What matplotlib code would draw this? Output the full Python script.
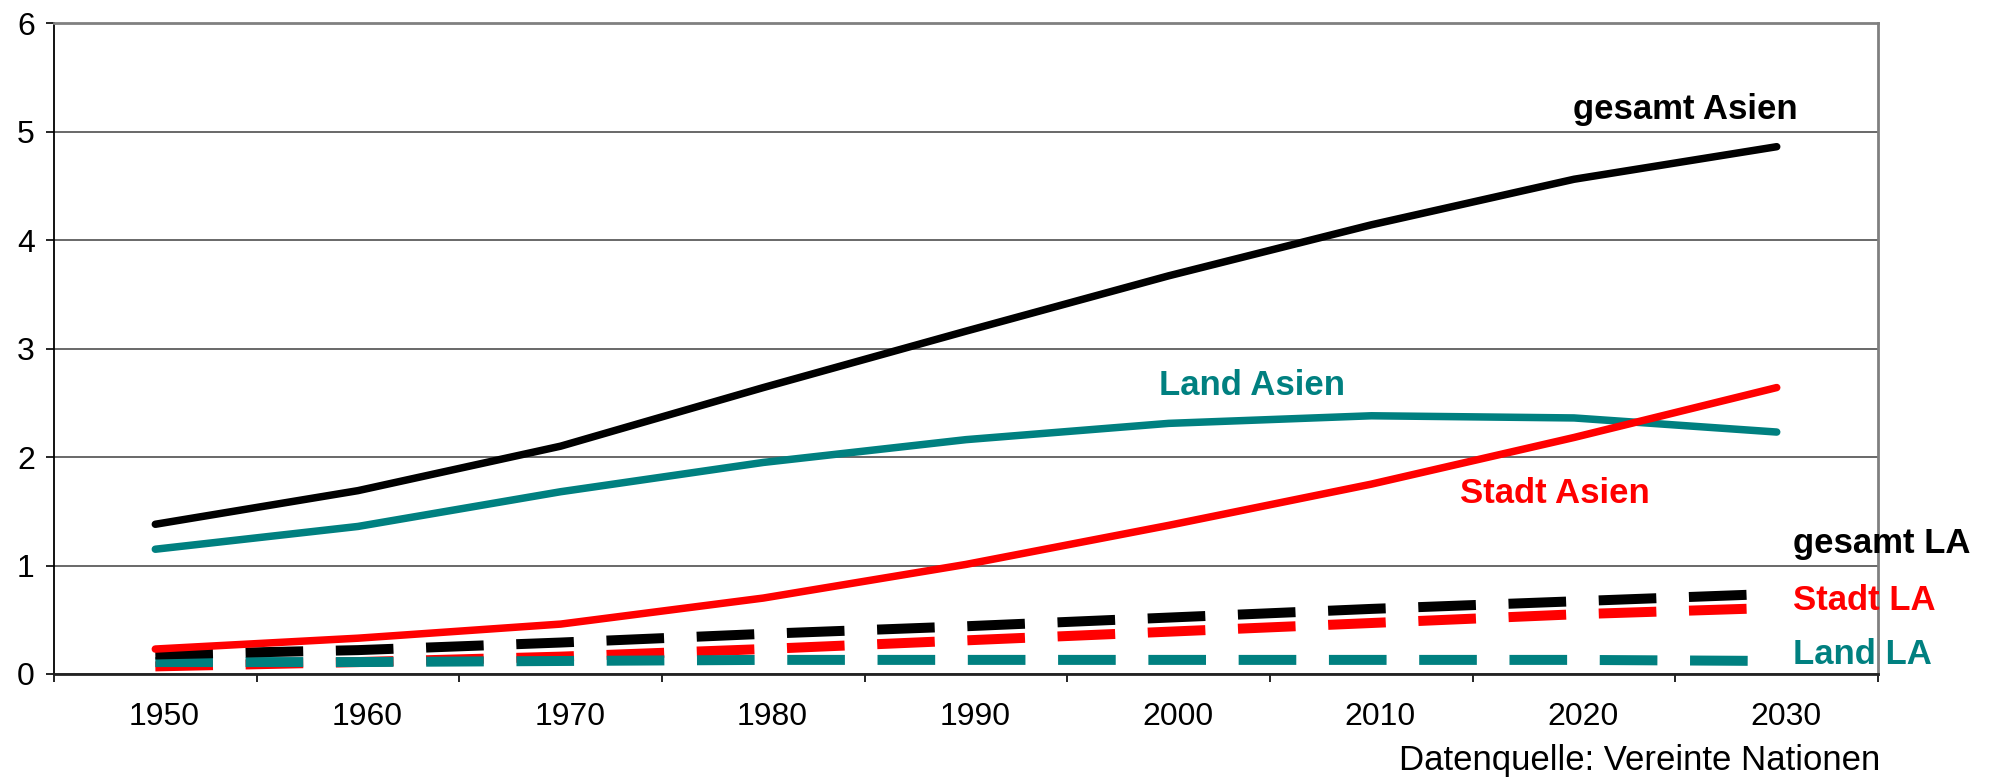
import numpy as np
import matplotlib
matplotlib.use('Agg')
import matplotlib.pyplot as plt
from matplotlib.transforms import ScaledTranslation

plt.rcParams.update({'font.family': ['Liberation Sans', 'DejaVu Sans'],
                     'lines.scale_dashes': False})

# Bevoelkerung in Milliarden
jahre = ['1950', '1960', '1970', '1980', '1990', '2000', '2010', '2020', '2030']
gesamt_asien = [1.38, 1.69, 2.10, 2.64, 3.16, 3.67, 4.14, 4.56, 4.86]
land_asien = [1.15, 1.36, 1.68, 1.95, 2.16, 2.31, 2.38, 2.36, 2.23]
stadt_asien = [0.23, 0.33, 0.46, 0.70, 1.01, 1.37, 1.75, 2.18, 2.64]
gesamt_la = [0.18, 0.22, 0.29, 0.37, 0.44, 0.52, 0.60, 0.67, 0.74]
stadt_la = [0.07, 0.11, 0.16, 0.23, 0.31, 0.39, 0.47, 0.55, 0.61]
land_la = [0.11, 0.11, 0.12, 0.13, 0.13, 0.13, 0.13, 0.13, 0.12]

teal = '#008080'
red = '#ff0000'
x = np.arange(len(jahre))

fig = plt.figure(figsize=(19.92, 7.8), dpi=100)
ax = fig.add_axes([0.0271, 0.1359, 0.9157, 0.8346])

dash = (0, (41.5, 23.5))
ax.plot(x, stadt_la, color=red, lw=7.2, linestyle=dash, dash_capstyle='butt', zorder=3)
ax.plot(x, land_la, color=teal, lw=7.2, linestyle=dash, dash_capstyle='butt', zorder=4)
ax.plot(x, gesamt_la, color='black', lw=7.2, linestyle=dash, dash_capstyle='butt', zorder=5)
ax.plot(x, land_asien, color=teal, lw=5.4, solid_capstyle='round', zorder=6)
ax.plot(x, gesamt_asien, color='black', lw=5.4, solid_capstyle='round', zorder=7)
ax.plot(x, stadt_asien, color=red, lw=5.4, solid_capstyle='round', zorder=8)

ax.set_xlim(-0.5, len(jahre) - 0.5)
ax.set_ylim(0, 6)
ax.set_yticks(range(7))
ax.yaxis.grid(True, color='#404040', lw=1.1)
ax.set_axisbelow(True)

ax.set_xticks(np.arange(-0.5, len(jahre), 1))
ax.set_xticklabels([])
ax.set_xticks(x, minor=True)
ax.set_xticklabels(jahre, minor=True)
ax.tick_params(axis='x', which='major', direction='out', length=5.8, width=1.2)
ax.tick_params(axis='x', which='minor', length=0, pad=20, labelsize=23)
ax.tick_params(axis='y', direction='out', length=5.8, width=1.2, pad=8, labelsize=23)
for lab in ax.get_xticklabels(minor=True):
    lab.set_transform(lab.get_transform() + ScaledTranslation(0.09, 0, fig.dpi_scale_trans))

ax.spines['left'].set_color('black')
ax.spines['left'].set_linewidth(1.3)
ax.spines['bottom'].set_color('#222222')
ax.spines['bottom'].set_linewidth(2)
ax.spines['top'].set_color('#808080')
ax.spines['top'].set_linewidth(2)
ax.spines['right'].set_color('#808080')
ax.spines['right'].set_linewidth(2)

kw = dict(fontsize=25, fontweight='bold', va='baseline', clip_on=False)
ax.text(7.55, 5.115, 'gesamt Asien', color='black', ha='center', **kw)
ax.text(5.41, 2.57, 'Land Asien', color=teal, ha='center', **kw)
ax.text(6.905, 1.576, 'Stadt Asien', color=red, ha='center', **kw)
ax.text(8.08, 1.115, 'gesamt LA', color='black', ha='left', **kw)
ax.text(8.08, 0.59, 'Stadt LA', color=red, ha='left', **kw)
ax.text(8.08, 0.092, 'Land LA', color=teal, ha='left', **kw)

fig.text(1880 / 1992, 0.0128, 'Datenquelle: Vereinte Nationen', fontsize=25,
         ha='right', va='baseline')

fig.savefig('out.png', dpi=100)
